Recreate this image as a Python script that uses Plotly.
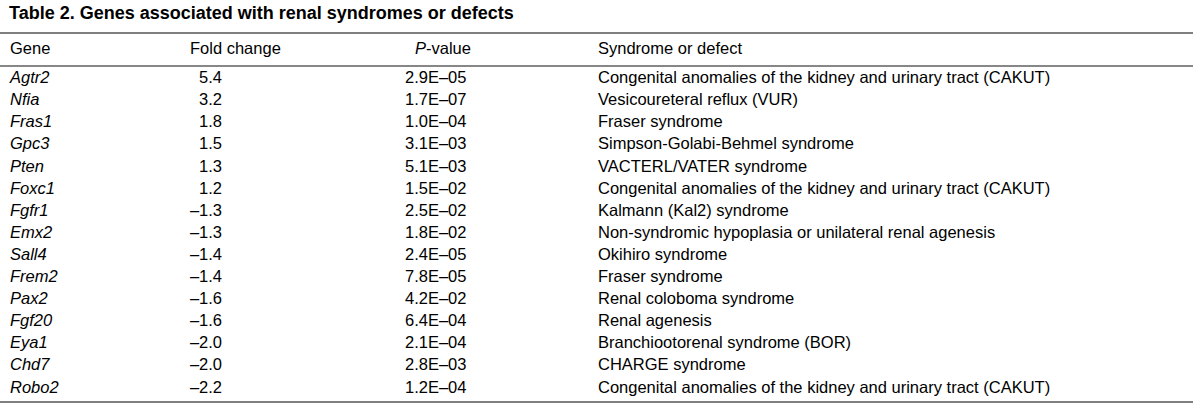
import plotly.graph_objects as go

title = "Table 2. Genes associated with renal syndromes or defects"
headers = ["Gene", "Fold change", "<i>P</i>-value", "Syndrome or defect"]
genes = ["Agtr2", "Nfia", "Fras1", "Gpc3", "Pten", "Foxc1", "Fgfr1", "Emx2",
         "Sall4", "Frem2", "Pax2", "Fgf20", "Eya1", "Chd7", "Robo2"]
fold_change = [5.4, 3.2, 1.8, 1.5, 1.3, 1.2, -1.3, -1.3, -1.4, -1.4, -1.6, -1.6, -2.0, -2.0, -2.2]
p_values = ["2.9E–05", "1.7E–07", "1.0E–04", "3.1E–03", "5.1E–03", "1.5E–02", "2.5E–02",
            "1.8E–02", "2.4E–05", "7.8E–05", "4.2E–02", "6.4E–04", "2.1E–04", "2.8E–03", "1.2E–04"]
syndromes = [
    "Congenital anomalies of the kidney and urinary tract (CAKUT)",
    "Vesicoureteral reflux (VUR)",
    "Fraser syndrome",
    "Simpson-Golabi-Behmel syndrome",
    "VACTERL/VATER syndrome",
    "Congenital anomalies of the kidney and urinary tract (CAKUT)",
    "Kalmann (Kal2) syndrome",
    "Non-syndromic hypoplasia or unilateral renal agenesis",
    "Okihiro syndrome",
    "Fraser syndrome",
    "Renal coloboma syndrome",
    "Renal agenesis",
    "Branchiootorenal syndrome (BOR)",
    "CHARGE syndrome",
    "Congenital anomalies of the kidney and urinary tract (CAKUT)",
]

FONT = "Liberation Sans, Arial, Helvetica, sans-serif"
SIZE = 16.5
COLOR = "#000000"

n = len(genes)
row_y0, row_h = 79, 22.1
row_y = [row_y0 + row_h * i for i in range(n)]
fold_text = [f"{v:.1f}".replace("-", "–") for v in fold_change]

def txt(x, y, text, pos, size=SIZE, style="normal", weight="normal"):
    return go.Scatter(
        x=[x] * len(text), y=y, text=text, mode="text", textposition=pos,
        textfont=dict(family=FONT, size=size, color=COLOR, style=style, weight=weight),
        hoverinfo="skip", showlegend=False, cliponaxis=False,
    )

fig = go.Figure()
# title
fig.add_trace(txt(9, [14], [title], "middle right", size=18, weight="bold"))
# headers
fig.add_trace(txt(10, [50], [headers[0]], "middle right"))
fig.add_trace(txt(190, [50], [headers[1]], "middle right"))
fig.add_trace(txt(415, [50], [headers[2]], "middle right"))
fig.add_trace(txt(598, [50], [headers[3]], "middle right"))
# body
fig.add_trace(txt(10, row_y, genes, "middle right", style="italic"))
fig.add_trace(txt(222, row_y, fold_text, "middle left"))
fig.add_trace(txt(405, row_y, p_values, "middle right"))
fig.add_trace(txt(598, row_y, syndromes, "middle right"))

shapes = [
    dict(type="line", x0=0, x1=1193, y0=33, y1=33, line=dict(color="#555555", width=1.6)),
    dict(type="line", x0=0, x1=1193, y0=66, y1=66, line=dict(color="#111111", width=1.1)),
    dict(type="line", x0=0, x1=1193, y0=402, y1=402, line=dict(color="#555555", width=1.6)),
]

fig.update_layout(
    width=1200, height=410,
    margin=dict(l=0, r=0, t=0, b=0),
    paper_bgcolor="white", plot_bgcolor="white",
    xaxis=dict(range=[0, 1200], visible=False, fixedrange=True),
    yaxis=dict(range=[410, 0], visible=False, fixedrange=True),
    shapes=shapes,
    hovermode=False,
)

fig.write_html(
    "out.html",
    config={"displayModeBar": False},
    post_script="document.body.style.margin='0';document.body.style.overflow='hidden';",
)
